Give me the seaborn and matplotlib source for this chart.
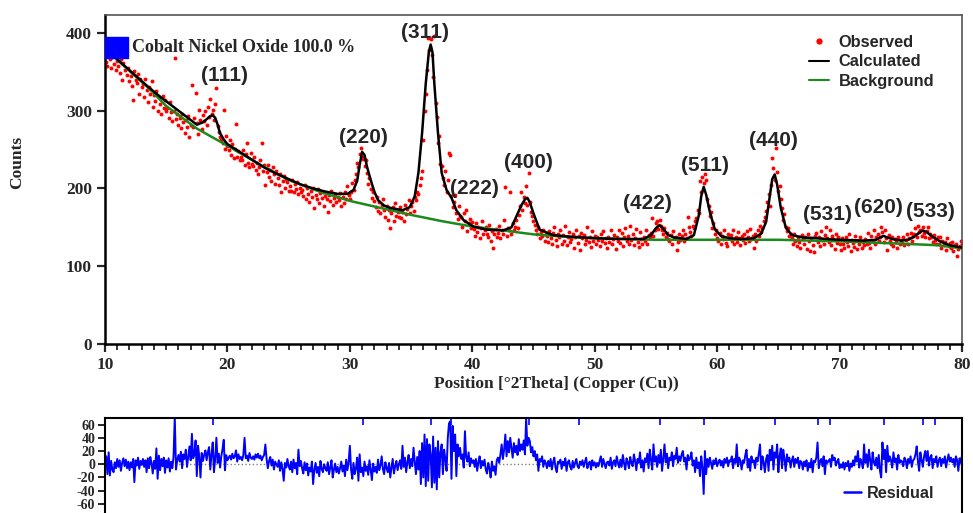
import numpy as np
import matplotlib
matplotlib.use("Agg")
import matplotlib.pyplot as plt
from matplotlib.patches import Rectangle
from matplotlib.lines import Line2D
from matplotlib.ticker import MultipleLocator
import seaborn as sns

# DATA
# ----
# scan grid: 10.1 .. 80.0 deg 2theta, 0.1 deg step (700 points)
two_theta = np.linspace(10.1, 80.0, 700)

# observed counts, one row per degree
observed_counts = [
    362, 358, 371, 366, 355, 369, 360, 374, 352, 364,
    357, 349, 366, 340, 361, 352, 370, 346, 355, 338,
    345, 332, 314, 351, 340, 336, 347, 322, 341, 330,
    334, 318, 341, 326, 311, 330, 322, 338, 305, 320,
    312, 325, 300, 317, 308, 296, 319, 303, 314, 299,
    304, 291, 311, 298, 287, 300, 368, 289, 296, 281,
    290, 278, 296, 285, 271, 288, 279, 293, 266, 282,
    333, 279, 290, 323, 284, 270, 301, 288, 276, 295,
    287, 299, 281, 305, 292, 315, 296, 301, 288, 309,
    329, 280, 272, 266, 262, 259, 301, 251, 268, 255,
    249, 262, 243, 257, 239, 251, 283, 240, 248, 236,
    241, 236, 250, 230, 244, 258, 233, 227, 245, 231,
    229, 240, 224, 233, 219, 228, 236, 258, 222, 230,
    204, 221, 230, 215, 224, 210, 227, 218, 206, 222,
    213, 205, 219, 195, 210, 216, 200, 212, 208, 197,
    203, 197, 211, 195, 206, 199, 208, 193, 201, 196,
    198, 190, 205, 186, 200, 193, 183, 197, 189, 201,
    175, 192, 186, 199, 181, 194, 188, 196, 178, 190,
    186, 170, 192, 184, 197, 179, 188, 193, 182, 189,
    185, 194, 178, 189, 181, 196, 187, 203, 192, 186,
    195, 207, 198, 211, 218, 233, 228, 244, 252, 241,
    238, 229, 236, 220, 206, 213, 199, 188, 196, 184,
    176, 189, 171, 183, 168, 179, 186, 172, 163, 178,
    160, 172, 149, 168, 176, 158, 181, 165, 170, 163,
    176, 162, 170, 158, 179, 167, 174, 185, 169, 178,
    182, 171, 189, 185, 196, 193, 205, 213, 223, 262,
    300, 322, 352, 394, 378, 392, 371, 343, 396, 310,
    292, 258, 268, 231, 229, 214, 205, 222, 196, 211,
    245, 243, 190, 176, 183, 192, 168, 161, 177, 165,
    163, 150, 168, 158, 172, 145, 155, 161, 149, 157,
    148, 139, 155, 144, 151, 136, 149, 158, 142, 147,
    150, 141, 137, 153, 133, 145, 124, 142, 148, 138,
    143, 152, 136, 147, 141, 160, 202, 139, 149, 146,
    196, 142, 155, 147, 151, 159, 149, 166, 178, 195,
    172, 189, 181, 203, 179, 220, 183, 170, 164, 158,
    153, 147, 141, 150, 136, 144, 139, 147, 133, 142,
    139, 131, 145, 136, 128, 143, 150, 134, 126, 141,
    137, 146, 129, 140, 133, 152, 127, 138, 144, 131,
    135, 142, 124, 138, 147, 130, 139, 121, 143, 136,
    140, 128, 134, 151, 131, 137, 125, 145, 133, 139,
    129, 138, 134, 126, 141, 132, 145, 130, 136, 124,
    137, 131, 146, 128, 135, 140, 122, 138, 133, 147,
    130, 143, 126, 137, 149, 132, 139, 128, 152, 134,
    141, 127, 136, 148, 131, 125, 144, 135, 129, 138,
    132, 146, 129, 140, 137, 143, 162, 139, 147, 155,
    158, 148, 160, 152, 146, 141, 149, 137, 143, 135,
    133, 140, 128, 145, 136, 138, 121, 131, 142, 134,
    139, 147, 132, 141, 136, 163, 150, 144, 139, 152,
    149, 158, 162, 172, 168, 209, 196, 215, 207, 219,
    211, 186, 178, 164, 170, 149, 155, 141, 146, 136,
    132, 143, 128, 139, 135, 147, 130, 126, 141, 137,
    140, 133, 146, 129, 138, 131, 144, 136, 127, 139,
    134, 142, 130, 145, 137, 132, 148, 135, 139, 123,
    141, 133, 146, 139, 152, 144, 149, 158, 163, 171,
    182, 193, 178, 205, 239, 226, 211, 252, 221, 197,
    203, 186, 175, 160, 167, 151, 145, 149, 139, 142,
    136, 128, 141, 133, 126, 138, 131, 124, 140, 135,
    129, 137, 122, 141, 133, 119, 136, 127, 118, 139,
    143, 131, 137, 126, 145, 134, 129, 140, 150, 136,
    131, 146, 127, 139, 135, 122, 141, 130, 137, 128,
    121, 136, 129, 124, 138, 131, 126, 142, 120, 134,
    130, 125, 139, 122, 133, 128, 137, 124, 131, 127,
    135, 128, 143, 130, 124, 139, 133, 146, 129, 137,
    141, 132, 138, 150, 144, 131, 147, 136, 121, 140,
    133, 129, 138, 126, 135, 131, 124, 137, 128, 134,
    130, 137, 127, 134, 141, 129, 136, 143, 132, 139,
    141, 149, 138, 152, 144, 147, 139, 150, 143, 137,
    145, 151, 136, 142, 138, 131, 140, 134, 128, 137,
    129, 138, 124, 133, 127, 131, 121, 136, 126, 130,
    124, 131, 120, 127, 129, 113, 122, 126, 133, 128,
]

# residual (observed - calculated), same grid
residual_counts = [
    12, -15, 18, -17, 5, -8, -12, 3, -6, 8,
    -4, 6, -10, 2, 9, -3, 7, -6, 4, -9,
    3, -5, 8, -27, 6, -2, 10, -7, 5, -1,
    8, -4, 6, -12, 9, -6, 11, 2, -14, 5,
    -7, 24, -22, 13, -9, 8, -3, 10, -13, 6,
    -5, 9, -11, 4, -6, 12, 72, -8, 6, 14,
    4, 19, -6, 15, 8, 22, -4, 11, 27, 6,
    46, 9, 14, 36, -18, 28, 12, -20, 17, 5,
    14, 21, 6, 18, 26, -8, 15, 33, -12, 8,
    40, 2, 16, -5, 12, 23, 37, -9, 14, 6,
    10, 13, 7, 16, 9, 12, 21, 4, 15, 8,
    11, 6, 14, 40, 9, 13, 5, 17, 10, 8,
    12, 7, 15, 10, 16, 9, 13, 6, 11, 14,
    30, 8, -6, 5, 11, -2, 7, -8, 4, 0,
    -4, 6, -10, 3, -7, -25, 2, -5, 8, -3,
    -8, 4, -12, 7, -6, 2, -15, 22, -3, 5,
    -6, -14, 3, -9, 1, -17, -5, -11, 4, -30,
    -8, 2, -13, -4, -18, 5, -7, -12, 0, -6,
    -10, 3, -15, -5, 6, -20, -8, 1, -12, -4,
    -14, -6, 4, -11, -2, -18, 7, -9, 3, 28,
    -8, -22, 2, -15, -6, 10, -25, 15, -12, -5,
    -18, 4, -10, -3, -16, 6, -8, -24, 1, -11,
    -4, -13, 7, -9, -2, 12, -7, -15, 3, -6,
    -12, 2, -20, -5, 8, -14, -3, 5, -9, 0,
    6, -7, 28, -4, 10, -12, 3, 14, -6, 8,
    -3, 25, 4, -15, 11, -8, 20, -30, 32, -20,
    45, -33, 38, -25, 30, 15, -35, 42, -28, 25,
    -38, 35, -20, 18, 30, -15, 22, 8, -10, 40,
    62, 65, -22, 58, 20, 45, -18, 30, 12, 25,
    8, 15, -5, 50, 10, 4, 18, -3, 9, 2,
    6, -4, 8, -10, 3, 12, -6, 5, -2, 7,
    -8, -14, 2, -6, -20, 4, -10, -3, -16, 6,
    10, 2, 15, 30, 8, 22, 45, 12, 35, 18,
    40, 25, 10, 32, 18, 28, 14, 38, 20, 30,
    22, 36, 15, 70, 28, 40, 35, 18, 26, 12,
    20, 6, 15, -10, 8, 4, 12, -4, 6, 2,
    -6, 5, -3, 8, -8, 3, 10, -5, -12, 4,
    2, 7, -7, 4, -2, 9, -10, 3, 6, -4,
    -8, 5, -5, 2, 8, -3, -6, 4, -1, 6,
    -4, 3, 10, -6, 1, 4, -8, 6, -2, 3,
    -5, 2, -3, 5, 12, -4, 8, 1, -6, 3,
    4, -2, 10, -7, 3, 6, -3, 12, 2, -5,
    7, -4, 14, 1, -8, 9, 3, -6, 11, 2,
    -3, 15, 5, -9, 8, 2, 18, -5, 6, -11,
    9, 3, 16, -6, 22, 6, -8, 30, 4, 12,
    -4, 14, 2, 22, -10, 8, 30, 3, 16, -6,
    10, 6, 18, -3, 13, 8, 25, 2, 12, 5,
    15, 20, 4, 10, -8, 14, 6, 9, 18, -2,
    6, -12, 10, -6, 3, -18, 12, -5, -45, 20,
    -15, 8, -4, 10, 2, -7, 6, 0, 9, -3,
    3, 7, -2, 5, -5, 8, 2, 10, -3, 6,
    4, 12, -6, 8, 2, 30, -3, 10, 5, -8,
    6, 2, 14, 22, -5, 8, -10, 12, 3, 6,
    -6, 10, 4, 16, 30, -8, 12, 3, -12, 8,
    14, -10, 22, 6, 28, -8, 18, 10, 30, -12,
    12, 24, -6, 22, 8, -10, 15, 4, 10, -5,
    6, 12, -4, 8, 2, 10, -6, 5, 3, -8,
    4, -3, 6, -10, 2, -5, 8, -12, 5, 3,
    10, 33, -6, 4, 8, -3, 12, -15, 6, 2,
    5, 8, -4, 14, 6, 10, -2, 4, 8, -6,
    0, -5, 3, -8, 2, -3, 5, -10, 1, -4,
    6, -2, 12, 4, 20, -5, 8, 3, -6, 30,
    2, 15, -4, 22, 6, -8, 18, 3, -2, 10,
    -6, 14, -10, -20, 33, 8, 22, -12, 28, 4,
    12, 6, -5, 18, 3, 9, -8, 14, 2, 6,
    4, -3, 10, 6, -6, 8, 2, 12, -4, 6,
    8, 15, 27, 4, -10, 18, 6, -4, 12, 20,
    5, 20, -2, 10, 14, -6, 8, 3, 12, -4,
    6, 10, -3, 8, 2, 12, -5, 6, 15, 4,
    10, 3, 8, -4, 12, 6, -10, 9, 2, 14,
]

# calculated profile
calc_2theta = [10.5, 11.5, 12.5, 13.5, 14.5, 15.5, 16.5, 17.0, 17.5, 18.0,
               18.3, 18.6, 18.8, 19.0, 19.2, 19.4, 19.7, 20.0, 21.0, 22.0,
               23.0, 24.0, 25.0, 26.0, 27.0, 28.0, 29.0, 29.8, 30.3, 30.6,
               30.8, 31.0, 31.2, 31.4, 31.7, 32.0, 32.3, 32.8, 33.3, 34.3,
               34.9, 35.3, 35.6, 35.9, 36.2, 36.45, 36.6, 36.75, 36.9, 37.2,
               37.5, 37.9, 38.3, 38.7, 39.3, 40.1, 41.2, 42.5, 43.2, 43.6,
               44.0, 44.3, 44.5, 44.7, 45.0, 45.5, 46.6, 48.0, 50.0, 52.0,
               54.0, 54.6, 55.0, 55.3, 55.6, 56.0, 56.5, 57.5, 58.1, 58.5,
               58.7, 58.9, 59.1, 59.4, 59.8, 60.3, 61.0, 62.0, 63.0, 63.6,
               64.0, 64.3, 64.5, 64.7, 64.9, 65.2, 65.6, 66.1, 67.0, 68.2,
               69.0, 70.0, 72.0, 73.0, 73.3, 73.6, 73.9, 74.3, 75.0, 75.6,
               76.1, 76.5, 76.8, 77.1, 77.6, 78.2, 79.0, 80.0]
calc_counts = [373, 359, 345, 331, 318, 306, 294, 288, 282, 285,
               289, 293, 294, 291, 282, 271, 263, 257, 247, 237,
               227, 219, 212, 205, 200, 196, 193, 193, 198, 210,
               230, 247, 243, 228, 211, 196, 185, 178, 175, 172,
               176, 190, 220, 271, 335, 375, 385, 375, 335, 271,
               220, 198, 188, 172, 159, 151, 147, 146, 150, 164,
               178, 186, 188, 182, 168, 147, 140, 138, 136, 135,
               135, 140, 149, 153, 148, 140, 137, 135, 140, 165,
               190, 202, 192, 170, 148, 139, 136, 135, 136, 142,
               157, 190, 212, 218, 205, 175, 150, 140, 137, 136,
               135, 134, 133, 134, 137, 139, 137, 135, 133, 134,
               138, 143, 146, 144, 138, 132, 127, 124]

# refined background
bg_2theta = [10.5, 11.5, 12.5, 13.5, 15.0, 17.5, 20.0, 22.5, 25.0, 27.5, 30.0, 32.5, 35.0,
             37.5, 40.0, 42.5, 45.0, 47.5, 50.0, 55.0, 60.0, 65.0, 70.0, 75.0, 78.0, 80.0]
bg_counts = [373, 358, 344, 330, 306, 277, 255, 232, 211, 196, 184, 175, 166,
             158, 151, 146, 141, 138, 136, 134, 134, 134, 132, 129, 127, 123]

# reflection markers (Cobalt Nickel Oxide)
reflection_2theta = [18.8, 31.1, 36.6, 38.3, 44.6, 48.7, 55.3, 58.9, 64.7, 68.2, 69.2, 73.6, 76.8, 77.8]

# hkl labels
hkl_labels = ["(111)", "(220)", "(311)", "(222)", "(400)", "(422)", "(511)", "(440)", "(531)", "(620)", "(533)"]
hkl_x = [19.8, 31.1, 36.1, 40.2, 44.6, 54.3, 59.0, 64.6, 69.0, 73.2, 77.4]
hkl_y = [345, 266, 401, 200, 233, 181, 229, 262, 166, 176, 170]

# STYLE
# -----
sns.set_style("ticks")
plt.rcParams['font.family'] = ['Liberation Serif', 'DejaVu Serif']
plt.rcParams['font.weight'] = 'bold'
plt.rcParams['axes.labelweight'] = 'bold'
plt.rcParams['axes.unicode_minus'] = False

fig = plt.figure(figsize=(9.73, 5.13), dpi=100)

# main pattern
ax = fig.add_axes([0.1079, 0.3294, 0.8808, 0.6414])
sns.scatterplot(x=two_theta, y=observed_counts, color='red', s=8, linewidth=0, ax=ax, legend=False, zorder=2)
sns.lineplot(x=bg_2theta, y=bg_counts, color='#1b8a1b', lw=1.8, ax=ax, sort=False, estimator=None, zorder=3)
sns.lineplot(x=calc_2theta, y=calc_counts, color='black', lw=1.8, ax=ax, sort=False, estimator=None, zorder=4)

ax.set_xlim(10, 80)
ax.set_ylim(0, 423)
ax.set_yticks([0, 100, 200, 300, 400])
ax.set_xticks([10, 20, 30, 40, 50, 60, 70, 80])
ax.xaxis.set_minor_locator(MultipleLocator(1))
ax.tick_params(axis='both', which='major', direction='out', length=6, width=1.6, labelsize=12.5)
ax.tick_params(axis='x', which='minor', direction='out', length=4, width=1.3)
for side in ['left', 'bottom']:
    ax.spines[side].set_linewidth(1.8)
    ax.spines[side].set_color('black')
for side in ['top', 'right']:
    ax.spines[side].set_linewidth(1.2)
    ax.spines[side].set_color('#555555')

ax.set_ylabel('Counts', fontsize=12.5)
ax.yaxis.set_label_coords(-0.0934, 0.553)
ax.set_xlabel('Position [°2Theta] (Copper (Cu))', fontsize=12.5)
ax.xaxis.set_label_coords(0.527, -0.097)

# phase marker
ax.add_patch(Rectangle((10, 368), 1.9, 27, color='blue', zorder=6, clip_on=False))
ax.text(12.2, 381, 'Cobalt Nickel Oxide 100.0 %', fontsize=13, va='center', ha='left', zorder=6)

for lab, px, py in zip(hkl_labels, hkl_x, hkl_y):
    ax.text(px, py, lab, fontsize=15, ha='center', va='center', family='Liberation Sans', weight='bold')

handles = [Line2D([], [], marker='o', color='red', ls='', ms=3.5),
           Line2D([], [], color='black', lw=1.5),
           Line2D([], [], color='#1b8a1b', lw=1.5)]
ax.legend(handles, ['Observed', 'Calculated', 'Background'], loc='upper right',
          bbox_to_anchor=(0.985, 0.985), frameon=False, handlelength=1.2, labelspacing=0.28,
          handletextpad=0.6, prop=dict(family='Liberation Sans', weight='bold', size=11.8))

# residual panel (bottom edge runs off the figure, as in the source)
ax_r = fig.add_axes([0.1079, 0.001, 0.8808, 0.1842])
ax_r.axhline(0, color='gray', ls=':', lw=1, zorder=1)
sns.lineplot(x=two_theta, y=residual_counts, color='blue', lw=1.4, ax=ax_r, sort=False, estimator=None, zorder=2)
ax_r.vlines(reflection_2theta, 60, 70, color='blue', lw=1.2)
ax_r.set_xlim(10, 80)
ax_r.set_ylim(-73, 70)
ax_r.set_yticks([-60, -40, -20, 0, 20, 40, 60])
ax_r.tick_params(axis='y', direction='out', length=5, width=1.4, labelsize=10, pad=2)
ax_r.tick_params(axis='x', bottom=False, labelbottom=False)
for side in ax_r.spines:
    ax_r.spines[side].set_linewidth(1.5)
    ax_r.spines[side].set_color('black')
ax_r.spines['bottom'].set_visible(False)
ax_r.legend([Line2D([], [], color='blue', lw=1.8)], ['Residual'], loc='lower right',
            bbox_to_anchor=(0.985, -0.03), frameon=False, handlelength=1.0, handletextpad=0.4,
            prop=dict(family='Liberation Sans', weight='bold', size=11.7))

fig.savefig('out.png', dpi=100)
plt.close(fig)
